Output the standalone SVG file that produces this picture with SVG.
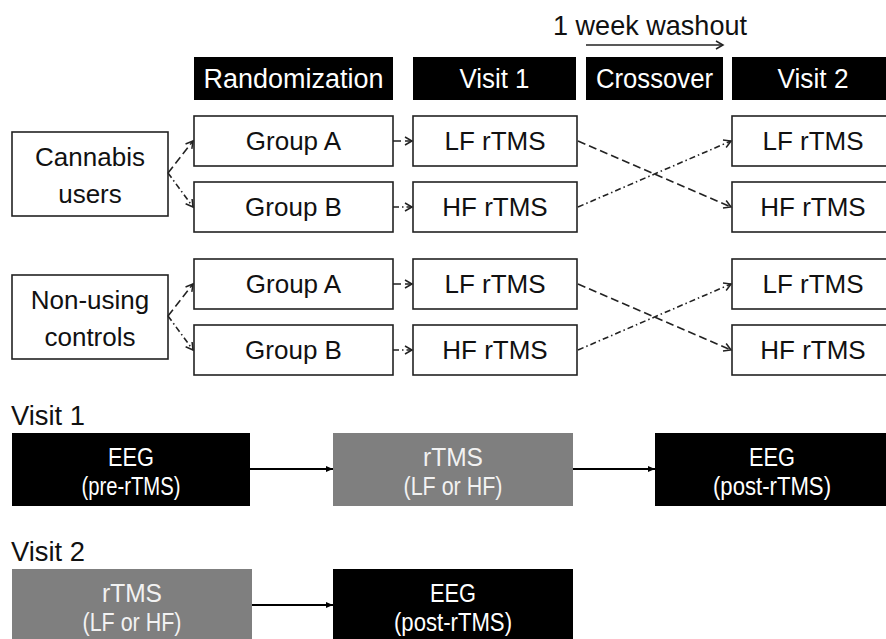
<svg xmlns="http://www.w3.org/2000/svg" width="886" height="639" viewBox="0 0 886 639">
<style>
text{font-family:"Liberation Sans",Arial,sans-serif;text-anchor:middle}
.hdr rect{fill:#000}
.hdr text{fill:#fff;font-size:27px}
.nd rect{fill:#fff;stroke:#222;stroke-width:1.6}
.nd text{fill:#111;font-size:26px}
.lbl{font-size:27px;fill:#111;text-anchor:start}
.blk rect{fill:#000}
.gry rect{fill:#7f7f7f}
.blk text{fill:#fff;font-size:25px}
.gry text{fill:#f2f2f2;font-size:25px}
.c{fill:none;stroke:#222;stroke-width:1.6}
.dash{stroke-dasharray:8 4}
.dd{stroke-dasharray:6 3 1.5 3}
.open{marker-end:url(#open)}
.solid{stroke:#000;stroke-width:2.2;marker-end:url(#tri)}
</style>
<defs>
<marker id="open" markerUnits="userSpaceOnUse" markerWidth="12" markerHeight="12" viewBox="0 0 12 12" refX="10" refY="6" orient="auto">
<path d="M3,2 L10,6 L3,10" fill="none" stroke="#222" stroke-width="1.5"/>
</marker>
<marker id="tri" markerUnits="userSpaceOnUse" markerWidth="10" markerHeight="10" viewBox="0 0 10 10" refX="9" refY="5" orient="auto">
<path d="M2,2 L9,5 L2,8 Z" fill="#000"/>
</marker>
</defs>

<g id="washout">
<text x="650" y="35" style="font-size:28px;fill:#111" textLength="194" lengthAdjust="spacingAndGlyphs">1 week washout</text>
</g>

<g id="hdr-randomization" class="hdr"><rect x="194" y="57" width="199" height="43"/><text x="293.5" y="88" textLength="180" lengthAdjust="spacingAndGlyphs">Randomization</text></g>
<g id="hdr-visit1" class="hdr"><rect x="413" y="57" width="163" height="43"/><text x="494.5" y="88" textLength="70" lengthAdjust="spacingAndGlyphs">Visit 1</text></g>
<g id="hdr-crossover" class="hdr"><rect x="586" y="57" width="137" height="43"/><text x="654.5" y="88" textLength="117" lengthAdjust="spacingAndGlyphs">Crossover</text></g>
<g id="hdr-visit2" class="hdr"><rect x="732" y="57" width="163" height="43"/><text x="813" y="88" textLength="71" lengthAdjust="spacingAndGlyphs">Visit 2</text></g>

<g id="cannabis" class="nd"><rect x="12" y="132" width="156" height="84"/><text x="90" y="166">Cannabis</text><text x="90" y="203">users</text></g>
<g id="c-groupA" class="nd"><rect x="194" y="116" width="199" height="50"/><text x="293.5" y="150">Group A</text></g>
<g id="c-groupB" class="nd"><rect x="194" y="182" width="199" height="50"/><text x="293.5" y="216">Group B</text></g>
<g id="c-v1-lf" class="nd"><rect x="413" y="116" width="164" height="50"/><text x="495" y="150">LF rTMS</text></g>
<g id="c-v1-hf" class="nd"><rect x="413" y="182" width="164" height="50"/><text x="495" y="216">HF rTMS</text></g>
<g id="c-v2-lf" class="nd"><rect x="732" y="116" width="163" height="50"/><text x="813" y="150">LF rTMS</text></g>
<g id="c-v2-hf" class="nd"><rect x="732" y="182" width="163" height="50"/><text x="813" y="216">HF rTMS</text></g>

<g id="controls" class="nd"><rect x="12" y="275" width="156" height="84"/><text x="90" y="309">Non-using</text><text x="90" y="346">controls</text></g>
<g id="n-groupA" class="nd"><rect x="194" y="259" width="199" height="50"/><text x="293.5" y="293">Group A</text></g>
<g id="n-groupB" class="nd"><rect x="194" y="325" width="199" height="50"/><text x="293.5" y="359">Group B</text></g>
<g id="n-v1-lf" class="nd"><rect x="413" y="259" width="164" height="50"/><text x="495" y="293">LF rTMS</text></g>
<g id="n-v1-hf" class="nd"><rect x="413" y="325" width="164" height="50"/><text x="495" y="359">HF rTMS</text></g>
<g id="n-v2-lf" class="nd"><rect x="732" y="259" width="163" height="50"/><text x="813" y="293">LF rTMS</text></g>
<g id="n-v2-hf" class="nd"><rect x="732" y="325" width="163" height="50"/><text x="813" y="359">HF rTMS</text></g>

<text class="lbl" x="11" y="425" textLength="74" lengthAdjust="spacingAndGlyphs">Visit 1</text>
<g id="v1-eeg-pre" class="blk"><rect x="12" y="433" width="238" height="73"/><text x="131" y="466" textLength="46" lengthAdjust="spacingAndGlyphs">EEG</text><text x="131" y="495" textLength="99" lengthAdjust="spacingAndGlyphs">(pre-rTMS)</text></g>
<g id="v1-rtms" class="gry"><rect x="333" y="433" width="240" height="73"/><text x="453" y="466" textLength="60" lengthAdjust="spacingAndGlyphs">rTMS</text><text x="453" y="495" textLength="99" lengthAdjust="spacingAndGlyphs">(LF or HF)</text></g>
<g id="v1-eeg-post" class="blk"><rect x="655" y="433" width="240" height="73"/><text x="772" y="466" textLength="46" lengthAdjust="spacingAndGlyphs">EEG</text><text x="772" y="495" textLength="118" lengthAdjust="spacingAndGlyphs">(post-rTMS)</text></g>

<text class="lbl" x="11" y="561" textLength="74" lengthAdjust="spacingAndGlyphs">Visit 2</text>
<g id="v2-rtms" class="gry"><rect x="12" y="569" width="240" height="80"/><text x="132" y="602" textLength="60" lengthAdjust="spacingAndGlyphs">rTMS</text><text x="132" y="631" textLength="99" lengthAdjust="spacingAndGlyphs">(LF or HF)</text></g>
<g id="v2-eeg-post" class="blk"><rect x="333" y="569" width="240" height="80"/><text x="453" y="602" textLength="46" lengthAdjust="spacingAndGlyphs">EEG</text><text x="453" y="631" textLength="118" lengthAdjust="spacingAndGlyphs">(post-rTMS)</text></g>

<g id="connectors">
<line class="c open" x1="586" y1="45" x2="723" y2="45"/>
<line class="c dash open" x1="168" y1="173" x2="193" y2="141"/>
<line class="c dd open" x1="168" y1="173" x2="193" y2="207"/>
<line class="c dash open" x1="393" y1="141" x2="412" y2="141"/>
<line class="c dd open" x1="393" y1="207" x2="412" y2="207"/>
<line class="c dash open" x1="578" y1="141" x2="731" y2="207"/>
<line class="c dd open" x1="578" y1="207" x2="731" y2="141"/>
<line class="c dash open" x1="168" y1="316" x2="193" y2="284"/>
<line class="c dd open" x1="168" y1="316" x2="193" y2="350"/>
<line class="c dash open" x1="393" y1="284" x2="412" y2="284"/>
<line class="c dd open" x1="393" y1="350" x2="412" y2="350"/>
<line class="c dash open" x1="578" y1="284" x2="731" y2="350"/>
<line class="c dd open" x1="578" y1="350" x2="731" y2="284"/>
<line class="c solid" x1="250" y1="469" x2="333" y2="469"/>
<line class="c solid" x1="573" y1="469" x2="655" y2="469"/>
<line class="c solid" x1="252" y1="605" x2="333" y2="605"/>
</g>
</svg>
